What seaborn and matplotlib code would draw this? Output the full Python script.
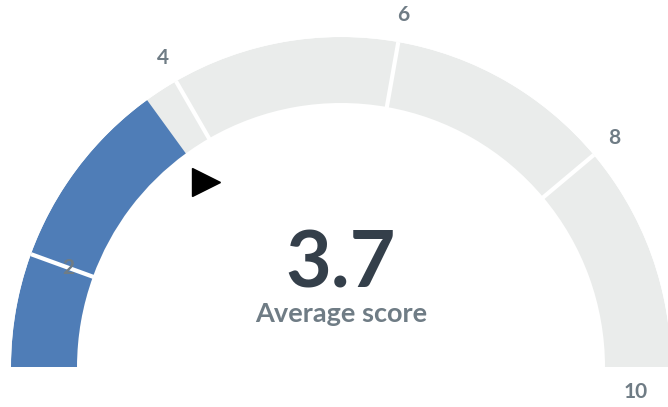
import numpy as np
import matplotlib
matplotlib.use("Agg")
import matplotlib.pyplot as plt
import seaborn as sns

# gauge data
scale_min, scale_max = 1, 10
segment_edges = [1, 2, 4, 6, 8, 10]
tick_values = [2, 4, 6, 8, 10]
tick_labels = ["2", "4", "6", "8", "10"]
score = 3.7
score_label = "3.7"
caption = "Average score"

sns.set_theme(style="white")
plt.rcParams["font.family"] = ["Lato", "DejaVu Sans"]

blue = "#4f7db7"
track = "#eaeceb"
dark = "#343f4a"
grey_text = "#6f7c85"

W, H = 668, 407
cx, cy_bottom = 341, 40      # centre in pixels (from left / from bottom)
R_out, R_in = 330, 264


def to_theta(v):
    # value -> angle, 1 on the left, 10 on the right
    return np.pi - (v - scale_min) / (scale_max - scale_min) * np.pi


fig = plt.figure(figsize=(W / 100, H / 100), dpi=100)
fig.patch.set_facecolor("white")
ax = fig.add_axes([(cx - R_out) / W, (cy_bottom - R_out) / H, 2 * R_out / W, 2 * R_out / H],
                  projection="polar")
ax.set_ylim(0, R_out)
ax.axis("off")

# grey track, one bar per segment
starts = np.array(segment_edges[:-1], dtype=float)
ends = np.array(segment_edges[1:], dtype=float)
ax.bar(to_theta(ends), R_out - R_in, width=to_theta(starts) - to_theta(ends),
       bottom=R_in, align="edge", color=track, linewidth=0)

# blue fill up to the score
b_starts = starts[starts < score]
b_ends = np.minimum(ends[starts < score], score)
ax.bar(to_theta(b_ends), R_out - R_in, width=to_theta(b_starts) - to_theta(b_ends),
       bottom=R_in, align="edge", color=blue, linewidth=0)

# white gaps between segments
for v in segment_edges[1:-1]:
    t = to_theta(v)
    ax.plot([t, t], [R_in - 4, R_out + 4], color="white", lw=3, solid_capstyle="butt", zorder=2)

# tick labels
tick_r = [290, 357, 357, 357, 296]
tick_nudge = [0, 0, 0, 0, -4.8]
for v, lab, r, n in zip(tick_values, tick_labels, tick_r, tick_nudge):
    ax.text(to_theta(v) + np.radians(n), r, lab, ha="center", va="center",
            fontsize=15, fontweight="bold", color=grey_text, zorder=5)

# pointer
ax.plot([to_theta(score)], [229], marker=">", markersize=20, color="black", linestyle="none")

# centre text
ax.text(np.pi / 2, 80, score_label, ha="center", va="baseline",
        fontsize=57, fontweight="bold", color=dark)
ax.text(np.pi / 2, 45, caption, ha="center", va="baseline",
        fontsize=19.5, fontweight="bold", color=grey_text)

fig.savefig("out.png", dpi=100, facecolor="white")
